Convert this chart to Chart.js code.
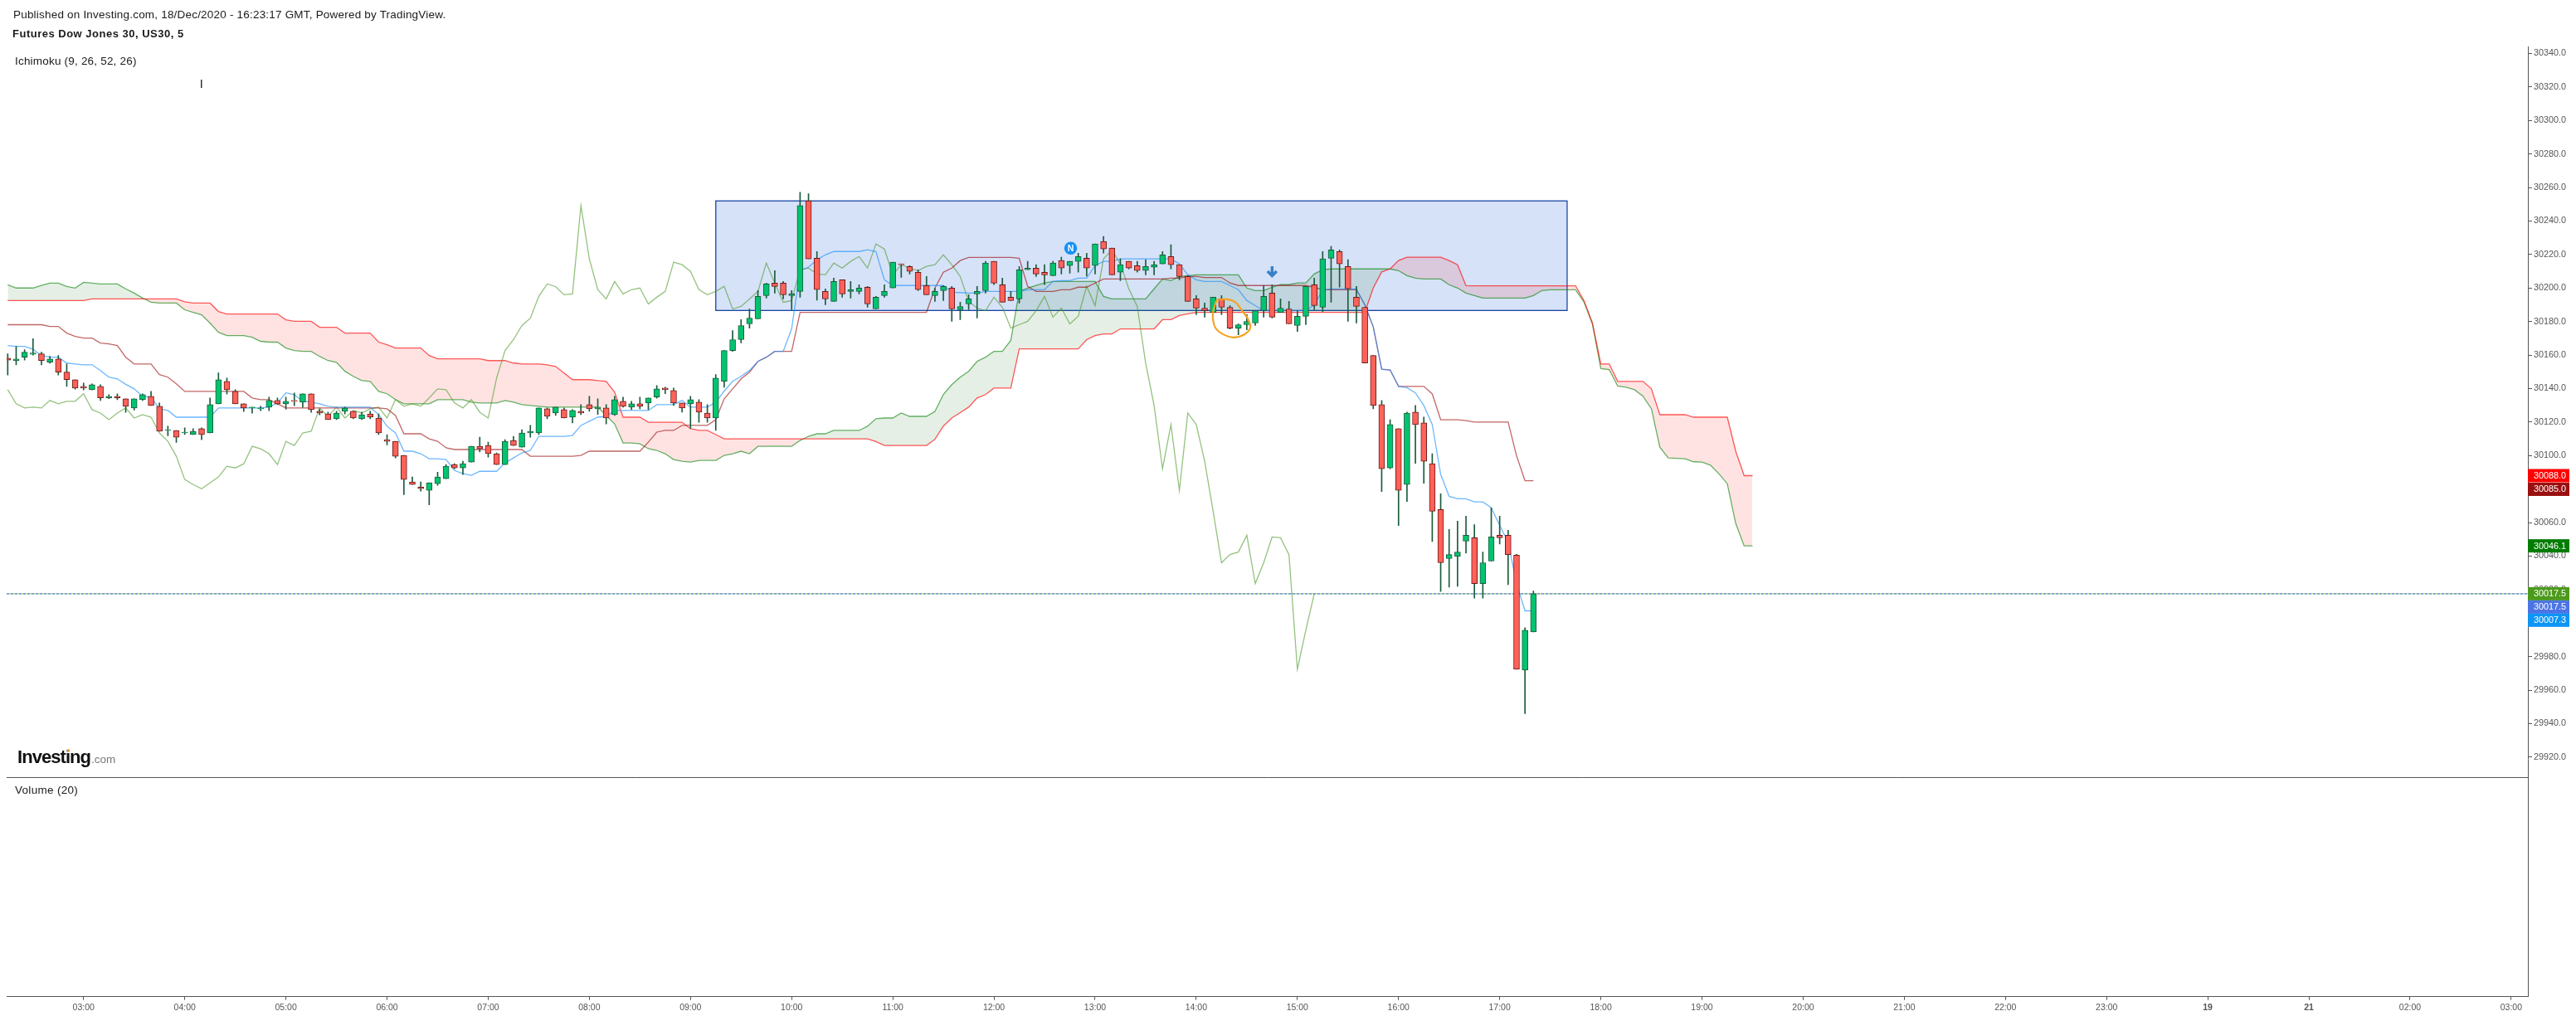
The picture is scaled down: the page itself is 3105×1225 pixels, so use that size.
<!DOCTYPE html>
<html>
<head>
<meta charset="utf-8">
<title>Futures Dow Jones 30</title>
<script src="https://cdn.jsdelivr.net/npm/chart.js@4"></script>
<style>
  body { margin: 0; background: #fff; font-family: "Liberation Sans", Arial, sans-serif; }
  #grafico { position: absolute; left: 0; top: 0; }
  .txt { position: absolute; white-space: nowrap; color: #1a1a1a; }
</style>
</head>
<body>
<canvas id="grafico" width="3105" height="1225"></canvas>
<div class="txt" style="left:16px;top:10px;font-size:13.5px;letter-spacing:0.2px;">Published on Investing.com, 18/Dec/2020 - 16:23:17 GMT, Powered by TradingView.</div>
<div class="txt" style="left:15px;top:33px;font-size:13px;font-weight:bold;letter-spacing:0.5px;">Futures Dow Jones 30, US30, 5</div>
<div class="txt" style="left:18px;top:66px;font-size:13.5px;letter-spacing:0.2px;">Ichimoku (9, 26, 52, 26)</div>
<div class="txt" style="left:18px;top:945px;font-size:13.5px;letter-spacing:0.3px;">Volume (20)</div>
<div class="txt" style="left:21px;top:900px;font-size:22px;font-weight:bold;letter-spacing:-0.95px;color:#111;">Investing<span style="font-size:13.5px;font-weight:normal;letter-spacing:0;color:#777;margin-left:1px;">.com</span></div>
<div style="position:absolute;left:81px;top:903px;width:3px;height:3px;border-radius:2px;background:#f5a623;"></div>
<script>
var horas = ["03:00","04:00","05:00","06:00","07:00","08:00","09:00","10:00","11:00","12:00","13:00","14:00","15:00","16:00","17:00","18:00","19:00","20:00","21:00","22:00","23:00","19","21","02:00","03:00"];
var horasIdx = [9,21,33,45,57,69,81,93,105,117,129,141,153,165,177,189,201,213,225,237,249,261,273,285,297];
var preciosEje = [29920,29940,29960,29980,30000,30020,30040,30060,30080,30100,30120,30140,30160,30180,30200,30220,30240,30260,30280,30300,30320,30340];

var aperturas = [
30158.2,30156.6,30158.7,30160.5,30160.7,30155.7,30157.7,30149.8,30145.3,30141.3,
30139.3,30141.3,30134.4,30135.4,30133.9,30128.4,30133.4,30135.4,30129.4,30115.0,
30115.0,30113.5,30112.5,30116.0,30113.5,30130.9,30144.3,30138.3,30130.9,30128.4,
30127.9,30128.9,30132.9,30130.9,30132.9,30131.9,30136.9,30126.4,30124.9,30121.9,
30126.4,30126.4,30121.9,30124.9,30122.4,30109.5,30108.5,30100.1,30084.2,30081.2,
30079.2,30083.2,30086.2,30094.6,30092.6,30096.1,30105.5,30106.0,30101.1,30094.6,
30109.0,30105.0,30113.5,30113.5,30127.9,30125.4,30127.4,30122.9,30126.4,30130.4,
30127.9,30128.4,30124.4,30132.4,30128.9,30130.9,30131.4,30134.9,30140.3,30138.8,
30131.4,30130.9,30131.9,30125.4,30122.4,30144.3,30162.7,30169.2,30178.6,30181.6,
30195.5,30202.9,30202.9,30195.5,30198.0,30252.1,30217.8,30198.0,30192.0,30204.9,
30198.0,30198.0,30200.5,30187.5,30195.5,30200.0,30214.4,30212.9,30209.4,30201.5,
30195.5,30198.5,30200.0,30187.0,30190.5,30196.5,30198.5,30215.9,30202.0,30194.5,
30193.5,30210.9,30211.9,30209.4,30207.4,30216.4,30213.4,30215.9,30217.8,30213.4,
30227.8,30223.8,30209.4,30215.9,30213.4,30210.4,30212.4,30214.4,30218.8,30213.9,
30206.9,30193.5,30188.0,30185.5,30193.5,30188.5,30176.1,30178.1,30179.1,30186.5,
30197.0,30185.5,30187.5,30177.6,30183.1,30202.0,30188.5,30217.8,30221.8,30212.9,
30194.5,30188.5,30159.7,30130.4,30092.6,30116.0,30082.7,30125.9,30119.5,30095.1,
30067.8,30038.5,30039.9,30048.9,30050.9,30023.6,30037.0,30052.4,30052.4,30040.5,
29971.9,29994.7];
var maximos = [
30160.7,30165.2,30163.2,30169.8,30161.7,30159.2,30159.7,30154.7,30145.3,30143.3,
30142.8,30142.3,30136.4,30136.9,30133.9,30133.9,30136.9,30138.3,30131.4,30117.5,
30115.0,30116.5,30116.0,30116.5,30134.4,30149.3,30146.3,30139.3,30130.9,30128.9,
30129.4,30134.9,30134.4,30134.9,30137.4,30136.9,30136.9,30127.6,30125.9,30126.4,
30128.9,30126.4,30125.9,30126.4,30124.9,30112.5,30108.5,30100.1,30087.2,30084.2,
30083.7,30090.1,30094.6,30095.1,30096.6,30105.5,30111.0,30108.0,30101.6,30109.5,
30111.5,30115.5,30118.0,30128.4,30128.4,30128.9,30128.4,30127.4,30130.4,30135.4,
30133.9,30130.4,30135.4,30134.9,30132.4,30134.9,30134.4,30141.8,30140.8,30140.3,
30131.4,30135.4,30133.4,30130.4,30148.3,30162.7,30174.6,30181.1,30187.5,30198.5,
30202.9,30210.4,30203.9,30198.5,30257.1,30256.3,30221.8,30199.5,30205.9,30204.9,
30203.9,30202.0,30201.0,30195.0,30202.0,30215.4,30214.4,30213.4,30210.9,30206.9,
30200.0,30201.5,30201.0,30191.5,30196.0,30201.0,30215.9,30215.9,30205.9,30198.0,
30212.9,30215.9,30214.0,30214.0,30215.9,30218.4,30215.9,30220.8,30220.8,30226.3,
30230.8,30223.8,30217.4,30215.9,30215.9,30216.9,30215.9,30221.8,30225.8,30213.9,
30207.4,30195.5,30191.0,30194.5,30195.5,30189.5,30178.6,30184.1,30186.5,30201.5,
30202.0,30193.5,30192.0,30186.5,30201.0,30205.9,30221.8,30224.8,30222.8,30216.9,
30201.0,30188.5,30159.7,30132.9,30121.4,30116.0,30125.9,30129.9,30123.0,30101.1,
30077.2,30055.9,30060.8,30063.8,30058.8,30042.4,30068.8,30063.8,30055.4,30041.0,
29997.2,30019.1];
var minimos = [
30148.1,30154.1,30157.0,30160.0,30154.1,30155.1,30148.1,30141.2,30139.7,30139.2,
30139.2,30132.9,30133.9,30133.4,30125.8,30127.2,30132.9,30129.9,30114.5,30111.8,
30107.9,30112.5,30112.5,30109.4,30113.5,30130.9,30136.7,30130.9,30126.3,30125.3,
30126.8,30126.8,30130.4,30127.7,30129.7,30128.7,30125.8,30124.3,30121.4,30121.4,
30124.8,30121.9,30121.4,30121.9,30112.5,30106.4,30098.6,30076.6,30082.7,30078.7,
30070.6,30082.2,30086.2,30092.1,30088.6,30096.1,30102.1,30099.1,30094.6,30094.6,
30106.0,30105.0,30111.0,30112.5,30121.9,30123.9,30122.4,30119.5,30124.4,30126.4,
30124.6,30118.9,30123.9,30128.9,30127.4,30127.9,30127.4,30134.2,30136.9,30129.9,
30125.9,30116.3,30119.8,30119.8,30115.0,30140.8,30162.2,30167.2,30176.1,30181.6,
30194.0,30197.0,30193.5,30187.0,30194.5,30217.4,30192.8,30190.0,30192.0,30194.5,
30194.0,30196.5,30188.5,30187.5,30194.5,30200.0,30206.4,30208.4,30198.5,30196.0,
30192.0,30192.5,30180.1,30181.1,30187.0,30182.1,30197.0,30202.0,30191.5,30192.5,
30191.0,30210.9,30206.9,30202.0,30207.4,30208.4,30208.9,30209.4,30207.1,30208.4,
30220.8,30207.9,30204.4,30211.4,30209.4,30207.9,30207.9,30214.4,30211.4,30204.9,
30192.0,30184.1,30182.6,30185.5,30184.1,30175.6,30172.1,30175.1,30177.6,30182.6,
30182.1,30185.5,30178.6,30174.1,30178.1,30187.0,30186.0,30191.5,30200.5,30180.1,
30179.1,30155.2,30127.9,30078.5,30092.1,30058.2,30072.6,30095.4,30083.5,30048.7,
30018.9,30021.4,30021.9,30041.8,30014.9,30014.9,30037.0,30047.2,30022.9,29972.4,
29946.0,29994.7];
var cierres = [
30157.0,30157.7,30161.7,30161.2,30156.7,30157.7,30149.8,30145.3,30140.3,30140.3,
30142.3,30134.4,30135.4,30134.4,30129.4,30133.9,30136.4,30129.9,30114.5,30115.5,
30111.0,30114.0,30114.5,30112.5,30130.4,30145.3,30139.3,30130.9,30128.4,30128.9,
30128.4,30132.9,30130.9,30132.4,30132.4,30136.9,30127.4,30125.4,30121.4,30125.4,
30128.4,30122.4,30124.4,30122.9,30113.5,30108.5,30099.6,30085.7,30082.7,30080.2,
30083.7,30087.2,30093.6,30092.6,30095.1,30105.5,30104.0,30101.1,30094.6,30108.5,
30106.0,30113.5,30114.5,30128.4,30123.4,30128.9,30122.4,30126.9,30125.4,30127.9,
30128.9,30122.4,30133.4,30129.4,30130.9,30129.4,30134.4,30139.8,30139.3,30131.4,
30128.4,30133.4,30125.9,30122.4,30146.3,30162.7,30169.2,30177.6,30182.0,30195.0,
30202.4,30200.9,30196.0,30196.5,30249.2,30217.4,30199.0,30193.5,30203.9,30196.5,
30199.0,30200.0,30190.5,30194.5,30198.0,30215.4,30213.9,30209.9,30199.0,30196.0,
30198.0,30201.0,30187.5,30189.0,30193.5,30198.0,30214.9,30202.9,30191.5,30192.5,
30210.9,30211.9,30208.4,30207.9,30214.9,30211.9,30215.9,30218.8,30211.9,30226.3,
30223.3,30207.9,30213.9,30211.9,30210.4,30212.9,30213.9,30219.8,30213.9,30206.9,
30192.0,30188.0,30186.5,30194.5,30188.5,30176.1,30178.1,30180.1,30186.5,30195.0,
30182.6,30188.0,30178.6,30183.1,30201.0,30189.5,30217.4,30222.8,30214.4,30199.5,
30189.0,30155.2,30129.9,30092.1,30118.5,30079.2,30125.4,30118.5,30096.6,30066.8,
30036.0,30040.9,30042.4,30052.4,30023.6,30036.0,30051.4,30050.9,30040.9,29972.4,
29995.7,30017.5];

var tenkan = [
30165.7,30165.2,30165.2,30163.4,30159.7,30158.7,30158.7,30155.2,30154.7,30154.2,
30154.2,30150.8,30146.8,30145.8,30142.5,30139.8,30135.4,30134.9,30127.9,30126.9,
30122.9,30122.9,30122.9,30122.9,30122.9,30128.4,30128.4,30128.4,30128.4,30128.4,
30128.4,30128.9,30131.4,30137.4,30136.4,30132.4,30131.9,30130.9,30129.4,30128.9,
30128.9,30128.9,30128.9,30128.9,30124.4,30117.5,30113.5,30102.6,30102.6,30101.1,
30098.1,30098.1,30097.6,30091.1,30089.2,30088.2,30090.6,30090.6,30090.6,30095.6,
30098.6,30101.6,30103.1,30111.5,30111.5,30111.5,30111.5,30112.0,30118.0,30120.5,
30122.9,30123.4,30126.9,30126.9,30126.9,30126.9,30126.9,30130.4,30130.4,30130.4,
30132.9,30128.9,30128.9,30128.9,30131.9,30138.5,30144.3,30147.3,30150.8,30156.2,
30158.7,30162.2,30162.2,30175.6,30210.4,30212.4,30216.9,30219.8,30221.8,30221.8,
30221.8,30221.8,30222.8,30221.8,30204.9,30201.5,30201.5,30201.5,30201.5,30201.5,
30201.5,30201.5,30197.5,30197.3,30197.0,30197.0,30198.0,30198.0,30198.0,30198.0,
30198.0,30199.0,30199.0,30199.0,30203.9,30204.4,30204.4,30205.9,30205.9,30213.4,
30215.9,30215.9,30217.4,30217.4,30217.4,30217.4,30217.4,30217.4,30217.4,30214.4,
30207.9,30204.9,30203.9,30203.9,30203.9,30201.5,30199.0,30192.5,30189.5,30186.5,
30186.5,30186.5,30186.5,30186.5,30186.5,30190.0,30199.0,30199.5,30199.5,30199.5,
30199.5,30190.0,30176.8,30151.6,30151.1,30141.3,30140.5,30137.4,30129.9,30118.5,
30088.7,30075.7,30074.2,30074.2,30072.3,30072.3,30068.8,30058.3,30048.4,30023.6,
30007.3,30007.3];
var kijun = [
30178.1,30178.1,30178.1,30178.1,30178.1,30177.1,30177.1,30173.1,30171.1,30170.1,
30170.1,30167.2,30166.7,30165.7,30158.7,30154.7,30154.7,30154.7,30148.3,30146.8,
30142.8,30138.3,30138.3,30138.3,30138.3,30138.3,30138.3,30138.3,30138.3,30134.4,
30133.4,30133.4,30130.9,30128.4,30128.4,30128.4,30128.4,30128.4,30128.4,30128.4,
30128.4,30128.4,30128.4,30128.4,30128.4,30127.9,30123.9,30113.0,30113.0,30113.0,
30110.0,30108.5,30104.6,30103.6,30103.6,30103.6,30103.6,30103.6,30103.6,30103.6,
30103.6,30103.6,30099.6,30099.6,30099.6,30099.6,30099.6,30099.6,30100.1,30102.6,
30102.6,30102.6,30102.6,30102.6,30102.6,30102.6,30108.0,30114.0,30115.0,30115.0,
30118.0,30118.0,30118.0,30118.0,30121.4,30133.9,30139.8,30145.8,30149.8,30156.2,
30158.7,30162.2,30162.2,30162.2,30185.5,30185.5,30185.5,30185.5,30185.5,30185.5,
30185.5,30185.5,30185.5,30185.5,30185.5,30185.5,30185.5,30185.5,30185.5,30185.5,
30200.0,30209.4,30211.9,30216.4,30218.3,30218.3,30218.3,30218.3,30218.3,30218.3,
30217.8,30201.0,30198.0,30198.0,30198.0,30199.0,30199.0,30200.5,30200.5,30203.0,
30205.4,30205.4,30205.4,30205.4,30205.4,30205.4,30205.4,30205.4,30205.9,30205.9,
30206.9,30206.9,30206.3,30206.3,30206.3,30203.0,30201.5,30201.5,30201.5,30201.5,
30201.5,30201.5,30201.5,30201.5,30201.5,30200.5,30199.0,30199.0,30199.0,30199.0,
30199.0,30190.0,30176.8,30151.6,30151.1,30141.3,30141.3,30141.3,30141.3,30136.8,
30121.4,30121.4,30121.4,30120.9,30120.0,30120.0,30120.0,30120.0,30120.0,30099.8,
30085.0,30085.0];
var chikou = [
30139.3,30130.9,30128.4,30128.9,
30128.4,30132.9,30130.9,30132.4,30132.4,30136.9,30127.4,30125.4,30121.4,30125.4,
30128.4,30122.4,30124.4,30122.9,30113.5,30108.5,30099.6,30085.7,30082.7,30080.2,
30083.7,30087.2,30093.6,30092.6,30095.1,30105.5,30104.0,30101.1,30094.6,30108.5,
30106.0,30113.5,30114.5,30128.4,30123.4,30128.9,30122.4,30126.9,30125.4,30127.9,
30128.9,30122.4,30133.4,30129.4,30130.9,30129.4,30134.4,30139.8,30139.3,30131.4,
30128.4,30133.4,30125.9,30122.4,30146.3,30162.7,30169.2,30177.6,30182.0,30195.0,
30202.4,30200.9,30196.0,30196.5,30249.2,30217.4,30199.0,30193.5,30203.9,30196.5,
30199.0,30200.0,30190.5,30194.5,30198.0,30215.4,30213.9,30209.9,30199.0,30196.0,
30198.0,30201.0,30187.5,30189.0,30193.5,30198.0,30214.9,30202.9,30191.5,30192.5,
30210.9,30211.9,30208.4,30207.9,30214.9,30211.9,30215.9,30218.8,30211.9,30226.3,
30223.3,30207.9,30213.9,30211.9,30210.4,30212.9,30213.9,30219.8,30213.9,30206.9,
30192.0,30188.0,30186.5,30194.5,30188.5,30176.1,30178.1,30180.1,30186.5,30195.0,
30182.6,30188.0,30178.6,30183.1,30201.0,30189.5,30217.4,30222.8,30214.4,30199.5,
30189.0,30155.2,30129.9,30092.1,30118.5,30079.2,30125.4,30118.5,30096.6,30066.8,
30036.0,30040.9,30042.4,30052.4,30023.6,30036.0,30051.4,30050.9,30040.9,29972.4,
29995.7,30017.5];
var senkouA = [
30201.9,30200.0,30200.0,30200.0,30201.5,30202.9,30202.9,30200.9,30200.0,30203.4,
30202.9,30202.4,30202.4,30202.4,30199.5,30197.0,30194.0,30191.5,30191.0,30191.0,
30191.0,30187.0,30185.5,30184.0,30179.1,30173.6,30171.6,30171.6,30171.6,30170.6,
30168.2,30167.7,30167.7,30164.2,30162.7,30162.2,30162.2,30159.2,30156.7,30155.7,
30150.3,30147.3,30144.8,30144.3,30138.3,30136.9,30133.4,30130.9,30130.9,30130.9,
30130.9,30133.4,30133.4,30133.4,30133.4,30131.9,30131.4,30131.4,30131.4,30132.9,
30131.9,30130.4,30129.9,30129.4,30128.9,30128.9,30128.9,30128.9,30128.9,30128.9,
30128.9,30123.9,30118.9,30107.5,30107.5,30107.0,30104.1,30103.1,30101.1,30097.6,
30096.6,30096.1,30097.1,30097.1,30097.1,30100.1,30101.1,30102.6,30101.1,30105.5,
30105.5,30105.5,30105.5,30105.5,30109.0,30111.5,30113.0,30113.0,30115.0,30115.0,
30115.0,30115.0,30117.5,30122.0,30122.4,30122.4,30125.4,30123.4,30123.4,30123.4,
30126.4,30136.5,30142.3,30146.8,30150.3,30156.2,30158.7,30162.2,30162.2,30168.7,
30198.0,30200.0,30201.5,30203.0,30203.9,30203.9,30203.9,30203.9,30203.9,30203.9,
30195.0,30193.5,30193.5,30193.5,30193.5,30193.5,30199.5,30205.4,30204.4,30206.9,
30207.4,30207.9,30207.9,30207.9,30207.9,30207.9,30207.9,30200.0,30198.5,30198.5,
30200.5,30202.0,30202.0,30203.0,30203.0,30208.4,30210.9,30211.4,30211.4,30211.4,
30211.4,30211.4,30211.4,30211.4,30211.4,30210.4,30207.4,30205.9,30205.4,30205.4,
30205.4,30202.0,30200.0,30197.0,30195.5,30194.0,30194.0,30194.0,30194.0,30194.0,
30194.0,30195.5,30198.5,30199.0,30199.0,30199.0,30199.0,30191.7,30178.4,30151.9,
30151.3,30141.5,30140.8,30139.3,30135.4,30127.9,30105.0,30098.6,30098.3,30098.1,
30096.3,30096.1,30094.3,30089.2,30083.2,30059.5,30046.1,30046.1];
var senkouB = [
30192.5,30192.5,30192.5,30192.5,30192.5,30192.5,30192.5,30192.5,30192.5,30192.5,
30193.5,30193.5,30193.5,30193.5,30193.5,30193.5,30193.5,30193.5,30193.5,30193.5,
30193.5,30191.8,30191.0,30191.0,30191.0,30186.0,30184.5,30184.5,30184.5,30184.5,
30184.5,30184.5,30184.5,30181.0,30180.1,30180.1,30180.1,30176.6,30176.6,30176.6,
30173.1,30173.1,30173.1,30173.1,30167.7,30166.2,30164.2,30164.2,30164.2,30164.2,
30159.7,30157.7,30157.7,30157.7,30157.7,30157.7,30157.7,30156.7,30156.7,30156.7,
30155.2,30154.7,30154.7,30154.7,30154.2,30153.2,30149.3,30145.3,30145.3,30145.3,
30144.8,30144.3,30137.8,30122.9,30122.9,30122.9,30119.9,30119.9,30119.9,30119.9,
30119.9,30116.0,30115.0,30115.0,30112.5,30110.0,30110.0,30110.0,30110.0,30110.0,
30110.0,30110.0,30110.0,30110.0,30110.0,30110.0,30110.0,30110.0,30110.0,30110.0,
30110.0,30110.0,30110.0,30108.4,30106.0,30106.0,30106.0,30106.0,30106.0,30106.0,
30109.7,30117.6,30122.4,30125.6,30128.9,30134.4,30136.4,30140.3,30140.3,30140.3,
30163.7,30163.7,30163.7,30163.7,30163.7,30163.7,30163.7,30163.7,30169.2,30171.6,
30172.6,30172.6,30175.6,30175.6,30175.6,30175.6,30175.6,30181.1,30181.1,30183.6,
30184.6,30185.5,30185.5,30185.5,30185.5,30185.5,30185.5,30185.5,30185.5,30185.5,
30185.5,30185.5,30185.5,30185.5,30185.5,30185.5,30185.5,30185.5,30185.5,30185.5,
30185.5,30185.5,30200.0,30209.6,30211.4,30216.4,30218.4,30218.4,30218.4,30218.4,
30218.4,30216.4,30213.9,30201.4,30201.3,30201.3,30201.3,30201.3,30201.3,30201.3,
30201.3,30201.3,30201.3,30201.3,30201.3,30201.3,30201.3,30192.5,30179.3,30154.7,
30154.7,30144.3,30144.3,30144.3,30144.3,30139.8,30124.4,30124.4,30124.4,30124.4,
30122.9,30122.9,30122.9,30122.9,30122.9,30102.6,30088.0,30088.0];

// dibujos del autor: caja azul, circulo naranja, noticia y flecha
var cajaIdx = [84, 185];
var cajaPrecio = [30252.0, 30186.6];
var circuloIdx = [143.4,144.6,145.6,146.4,147.2,147.4,146.7,145.4,144.1,143.3,143.0,143.0,143.4];
var circuloPrecio = [30192.8,30193.3,30191.7,30186.7,30180.9,30176.0,30172.3,30170.5,30172.6,30176.0,30180.9,30185.9,30192.5];
var noticia = [126.1, 30223.8];
var flecha = [150, 30210];
var ultimoPrecio = 30017.5;
var separadorPrecio = 29908.2;

var etiquetasValor = [30088.0, 30085.0, 30046.1, 30017.5, 30017.5, 30007.3];
var etiquetasColor = ["#ff0000", "#9a1010", "#007c00", "#4c9a1c", "#4c74e6", "#0d95f5"];
var etiquetasDesp = [0, 10.4, 0, 0, 16, 11.3];

var xMin = -0.13, xMax = 298.98;

function serie(ys) {
  return ys.map(function (v, i) { return { x: i, y: v }; });
}

var velas = aperturas.map(function (o, i) { return { x: i, y: [o, cierres[i]] }; });
var mechas = maximos.map(function (h, i) { return { x: i, y: [minimos[i], h] }; });
var sube = aperturas.map(function (o, i) { return cierres[i] >= o; });

function linea(label, datos, color, orden) {
  return {
    type: "line",
    label: label,
    data: datos,
    borderColor: color,
    borderWidth: 1.3,
    pointRadius: 0,
    tension: 0,
    fill: false,
    order: orden
  };
}

var ultimoDatos = [{ x: xMin, y: ultimoPrecio }, { x: xMax, y: ultimoPrecio }];
var datasets = [
  linea("Tenkan", serie(tenkan), "rgba(30, 144, 255, 0.65)", 4),
  linea("Kijun", serie(kijun), "rgba(153, 0, 0, 0.6)", 5),
  linea("Chikou", serie(chikou), "rgba(76, 153, 40, 0.6)", 6),
  linea("Senkou B", serie(senkouB), "rgba(255, 0, 0, 0.65)", 7),
  linea("Senkou A", serie(senkouA), "rgba(0, 128, 0, 0.6)", 8),
  linea("Ultimo", ultimoDatos, "#4c74e6", 3),
  linea("Ultimo base", ultimoDatos, "rgba(76, 154, 28, 0.6)", 9),
  {
    type: "bar",
    label: "Mechas",
    data: mechas,
    backgroundColor: "#1b5c3c",
    barThickness: 1,
    borderWidth: 0,
    grouped: false,
    order: 2
  },
  {
    type: "bar",
    label: "Velas",
    data: velas,
    backgroundColor: sube.map(function (s) { return s ? "#00c46f" : "#ff6259"; }),
    borderColor: sube.map(function (s) { return s ? "#1b5c3c" : "#6d1a1a"; }),
    borderWidth: 1,
    borderSkipped: false,
    barThickness: 7,
    grouped: false,
    order: 1
  },
  linea("Circulo", circuloIdx.map(function (x, i) { return { x: x, y: circuloPrecio[i] }; }), "#f5a31f", 0)
];
datasets[5].borderDash = [3, 2];
datasets[5].borderWidth = 1;
datasets[6].borderWidth = 1;
datasets[4].fill = { target: 3, above: "rgba(0, 100, 0, 0.1)", below: "rgba(255, 0, 0, 0.11)" };
datasets[9].borderWidth = 2.2;
datasets[9].tension = 0.4;

var plugCaja = {
  id: "caja",
  beforeDatasetsDraw: function (chart) {
    var sx = chart.scales.x, sy = chart.scales.y, ctx = chart.ctx;
    var x0 = sx.getPixelForValue(cajaIdx[0]), x1 = sx.getPixelForValue(cajaIdx[1]);
    var y0 = sy.getPixelForValue(cajaPrecio[0]), y1 = sy.getPixelForValue(cajaPrecio[1]);
    ctx.save();
    ctx.fillStyle = "#d6e2f8";
    ctx.fillRect(x0, y0, x1 - x0, y1 - y0);
    ctx.strokeStyle = "#1a45a6";
    ctx.lineWidth = 1.3;
    ctx.strokeRect(x0, y0, x1 - x0, y1 - y0);
    ctx.restore();
  }
};

var plugMarcas = {
  id: "marcas",
  afterDraw: function (chart) {
    var sx = chart.scales.x, sy = chart.scales.y, ctx = chart.ctx;
    ctx.save();

    // separador del panel de volumen
    var ySep = Math.round(sy.getPixelForValue(separadorPrecio)) + 0.5;
    ctx.strokeStyle = "#555";
    ctx.lineWidth = 1;
    ctx.beginPath();
    ctx.moveTo(chart.chartArea.left, ySep);
    ctx.lineTo(chart.chartArea.right, ySep);
    ctx.stroke();

    // marca suelta arriba a la izquierda
    ctx.fillStyle = "#333";
    ctx.fillRect(242, 96, 1.5, 10);

    // noticia
    var nx = sx.getPixelForValue(noticia[0]), ny = sy.getPixelForValue(noticia[1]);
    ctx.fillStyle = "#1592f5";
    ctx.beginPath();
    ctx.arc(nx, ny, 7.7, 0, Math.PI * 2);
    ctx.fill();
    ctx.fillStyle = "#fff";
    ctx.font = "bold 10.5px 'Liberation Sans'";
    ctx.textAlign = "center";
    ctx.textBaseline = "middle";
    ctx.fillText("N", nx, ny + 0.5);

    // flecha
    var ax = sx.getPixelForValue(flecha[0]), ay = sy.getPixelForValue(flecha[1]);
    ctx.strokeStyle = "#3a80c8";
    ctx.lineWidth = 3.4;
    ctx.beginPath();
    ctx.moveTo(ax, ay - 6);
    ctx.lineTo(ax, ay + 5);
    ctx.moveTo(ax - 5.5, ay);
    ctx.lineTo(ax, ay + 5.5);
    ctx.lineTo(ax + 5.5, ay);
    ctx.stroke();

    // etiquetas de precio a la derecha
    ctx.font = "10.8px 'Liberation Sans'";
    ctx.textAlign = "left";
    etiquetasValor.forEach(function (v, i) {
      var y = sy.getPixelForValue(v) + etiquetasDesp[i];
      ctx.fillStyle = etiquetasColor[i];
      ctx.fillRect(chart.chartArea.right, y - 8, 50, 16);
      ctx.fillStyle = "#fff";
      ctx.fillText(v.toFixed(1), 3054, y + 0.5);
    });
    ctx.restore();
  }
};

var grafico = new Chart(document.getElementById("grafico"), {
  type: "bar",
  data: { datasets: datasets },
  plugins: [plugCaja, plugMarcas],
  options: {
    responsive: false,
    devicePixelRatio: 1,
    animation: false,
    layout: { padding: { left: 8, top: 56, right: 0, bottom: 0 } },
    plugins: { legend: { display: false }, tooltip: { enabled: false }, title: { display: false } },
    scales: {
      x: {
        type: "linear",
        min: xMin,
        max: xMax,
        offset: false,
        afterBuildTicks: function (axis) {
          axis.ticks = horasIdx.map(function (v) { return { value: v }; });
        },
        afterFit: function (axis) { axis.height = 23.3; },
        grid: { drawOnChartArea: false, offset: false, color: "#555", tickLength: 4 },
        border: { color: "#555", width: 1 },
        ticks: {
          autoSkip: false,
          maxRotation: 0,
          padding: 3,
          color: "#555",
          font: function (c) {
            var t = c.tick ? horas[horasIdx.indexOf(c.tick.value)] : "";
            return { family: "Liberation Sans", size: 10.5, weight: t.length < 3 ? "bold" : "normal" };
          },
          callback: function (v) { return horas[horasIdx.indexOf(v)]; }
        }
      },
      y: {
        type: "linear",
        position: "right",
        min: 29777.0,
        max: 30344.2,
        afterBuildTicks: function (axis) {
          axis.ticks = preciosEje.map(function (v) { return { value: v }; });
        },
        afterFit: function (axis) { axis.width = 58; },
        grid: { drawOnChartArea: false, color: "#555", tickLength: 5 },
        border: { color: "#555", width: 1 },
        ticks: {
          autoSkip: false,
          crossAlign: "near",
          padding: 2,
          color: "#555",
          font: { family: "Liberation Sans", size: 10.8 },
          callback: function (v) { return v.toFixed(1); }
        }
      }
    }
  }
});
</script>
</body>
</html>
